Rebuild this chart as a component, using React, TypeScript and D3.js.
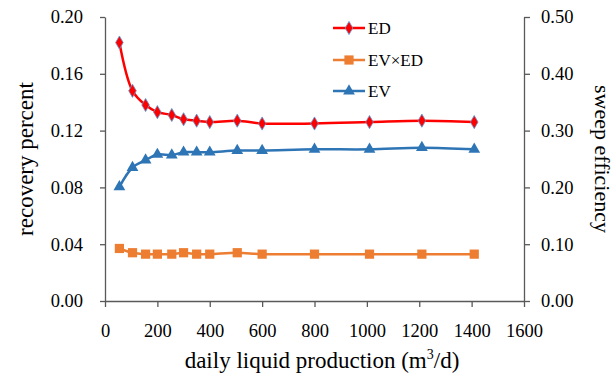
import React, { useEffect, useRef } from 'react';
import * as d3 from 'd3';

const production = [55, 105, 155, 200, 255, 300, 350, 400, 505, 600, 800, 1010, 1210, 1410];
const edValues = [0.182, 0.148, 0.138, 0.133, 0.131, 0.128, 0.127, 0.126, 0.127, 0.125, 0.125, 0.126, 0.127, 0.126];
const evEdValues = [0.037, 0.034, 0.033, 0.033, 0.033, 0.034, 0.033, 0.033, 0.034, 0.033, 0.033, 0.033, 0.033, 0.033];
const evValues = [0.201, 0.235, 0.248, 0.258, 0.257, 0.262, 0.262, 0.262, 0.265, 0.265, 0.267, 0.267, 0.27, 0.267];

const xTicks = [0, 200, 400, 600, 800, 1000, 1200, 1400, 1600];
const leftTicks = [0, 0.04, 0.08, 0.12, 0.16, 0.2];
const rightTicks = [0, 0.1, 0.2, 0.3, 0.4, 0.5];

const FONT = '"Liberation Serif", "Times New Roman", serif';

export default function App() {
  const svgRef = useRef<SVGSVGElement>(null);

  useEffect(() => {
    if (!svgRef.current) return;
    const svg = d3.select(svgRef.current);
    svg.selectAll('*').remove();

    const left = 105, right = 524, top = 17, bottom = 301;

    const x = d3.scaleLinear().domain([0, 1600]).range([left, right]);
    const yL = d3.scaleLinear().domain([0, 0.2]).range([bottom, top]);
    const yR = d3.scaleLinear().domain([0, 0.5]).range([bottom, top]);

    const axisColor = '#595959';

    const styleAxis = (g: d3.Selection<SVGGElement, unknown, null, undefined>) => {
      g.attr('font-family', null).attr('font-size', null);
      g.select('.domain').attr('stroke', axisColor).attr('stroke-width', 1.3);
      g.selectAll('.tick line').attr('stroke', axisColor).attr('stroke-width', 1.3);
      g.selectAll('.tick text')
        .attr('fill', '#000')
        .style('font-family', FONT)
        .style('font-size', '18.5px');
    };

    // axes
    const gx = svg.append('g')
      .attr('transform', `translate(0,${bottom})`)
      .call(d3.axisBottom(x).tickValues(xTicks).tickSize(6).tickSizeOuter(0).tickPadding(17).tickFormat(d3.format('d')));
    styleAxis(gx);

    const gl = svg.append('g')
      .attr('transform', `translate(${left},0)`)
      .call(d3.axisLeft(yL).tickValues(leftTicks).tickSize(5).tickSizeOuter(0).tickPadding(17).tickFormat(d3.format('.2f')));
    styleAxis(gl);

    const gr = svg.append('g')
      .attr('transform', `translate(${right},0)`)
      .call(d3.axisRight(yR).tickValues(rightTicks).tickSize(6).tickSizeOuter(0).tickPadding(11).tickFormat(d3.format('.2f')));
    styleAxis(gr);

    // axis titles
    svg.append('text')
      .attr('x', 322).attr('y', 368)
      .attr('text-anchor', 'middle')
      .style('font-family', FONT).style('font-size', '23px')
      .html('daily liquid production (m<tspan dy="-9" font-size="14">3</tspan><tspan dy="9">/d)</tspan>');

    svg.append('text')
      .attr('transform', `translate(33,${(top + bottom) / 2}) rotate(-90)`)
      .attr('text-anchor', 'middle')
      .style('font-family', FONT).style('font-size', '23px')
      .text('recovery percent');

    svg.append('text')
      .attr('transform', `translate(595,${(top + bottom) / 2}) rotate(90)`)
      .attr('text-anchor', 'middle')
      .style('font-family', FONT).style('font-size', '22px')
      .text('sweep efficiency');

    const curve = d3.curveCatmullRom.alpha(0.5);

    const series = [
      { name: 'ED', values: edValues, y: yL, color: '#FF0000', symbol: d3.symbolDiamond, size: 50, stroke: '#5B9BD5', legendY: 28 },
      { name: 'EV×ED', values: evEdValues, y: yL, color: '#ED7D31', symbol: d3.symbolSquare, size: 85, stroke: 'none', legendY: 60 },
      { name: 'EV', values: evValues, y: yR, color: '#2E75B6', symbol: d3.symbolTriangle, size: 60, stroke: 'none', legendY: 91 },
    ];

    series.forEach(s => {
      const line = d3.line<number>()
        .x((_, i) => x(production[i]))
        .y(d => s.y(d))
        .curve(curve);
      svg.append('path')
        .datum(s.values)
        .attr('d', line)
        .attr('fill', 'none')
        .attr('stroke', s.color)
        .attr('stroke-width', 2.5);

      const sym = d3.symbol().type(s.symbol).size(s.size);
      svg.selectAll(null)
        .data(s.values)
        .enter()
        .append('path')
        .attr('d', sym)
        .attr('transform', (d, i) => `translate(${x(production[i])},${s.y(d)})`)
        .attr('fill', s.color)
        .attr('stroke', s.stroke)
        .attr('stroke-width', 0.8);

      // legend
      svg.append('line')
        .attr('x1', 333).attr('x2', 365)
        .attr('y1', s.legendY).attr('y2', s.legendY)
        .attr('stroke', s.color).attr('stroke-width', 2.5);
      svg.append('path')
        .attr('d', sym)
        .attr('transform', `translate(349,${s.legendY})`)
        .attr('fill', s.color)
        .attr('stroke', s.stroke)
        .attr('stroke-width', 0.8);
      svg.append('text')
        .attr('x', 368).attr('y', s.legendY + 6)
        .style('font-family', FONT).style('font-size', '17px')
        .text(s.name);
    });
  }, []);

  return (
    <svg
      ref={svgRef}
      width={616}
      height={378}
      style={{ position: 'absolute', left: 0, top: 0, background: '#fff' }}
    />
  );
}
